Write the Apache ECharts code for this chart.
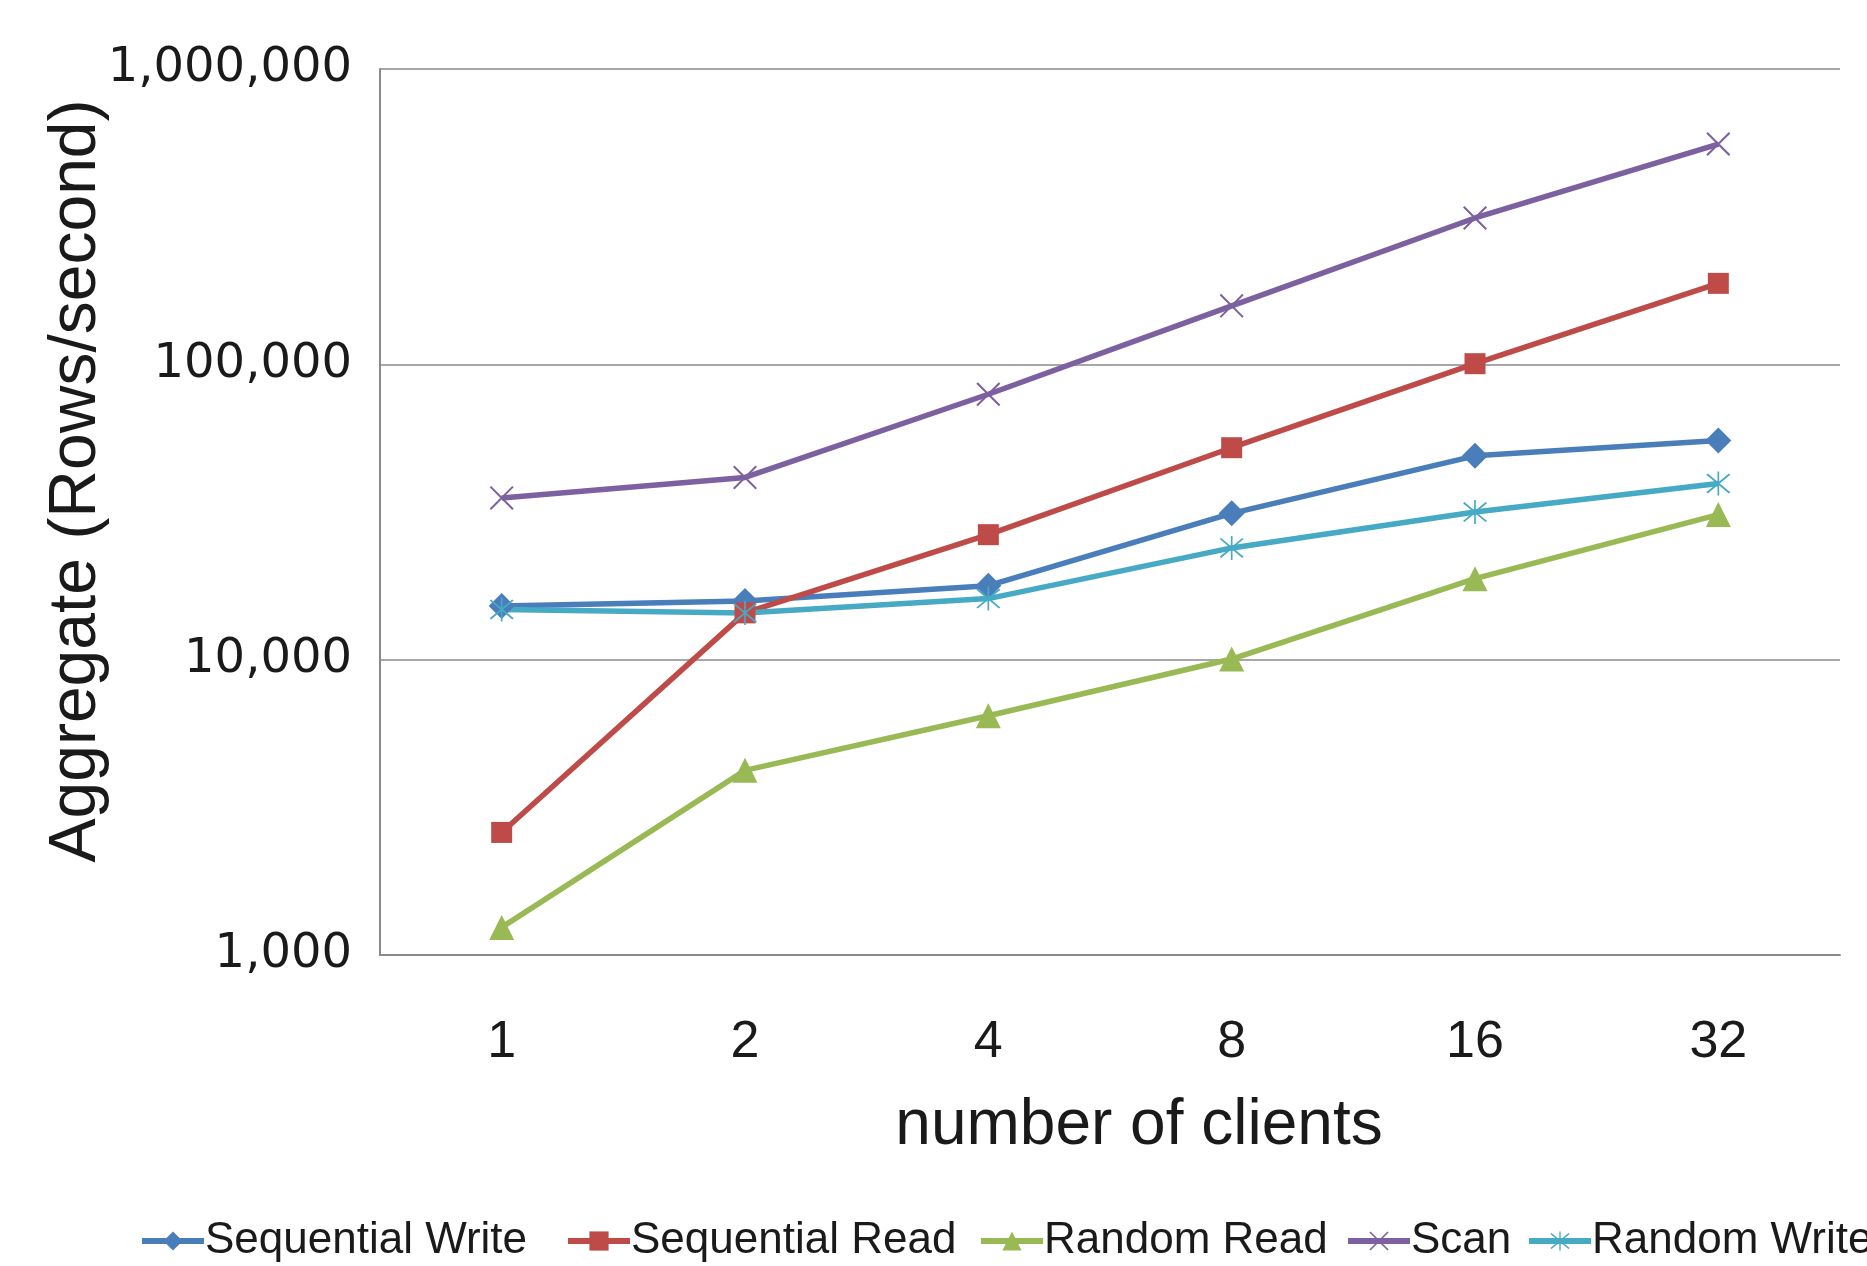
<!DOCTYPE html>
<html>
<head>
<meta charset="utf-8">
<script src="https://cdn.jsdelivr.net/npm/echarts@6/dist/echarts.min.js"></script>
<style>
html,body{margin:0;padding:0;background:#fff;}
#chart{width:1867px;height:1266px;}
</style>
</head>
<body>
<div id="chart"></div>
<script>
const categories = ['1', '2', '4', '8', '16', '32'];
const seqWrite  = [15200, 15800, 17800, 31300, 49000, 55200];
const seqRead   = [2600, 14400, 26500, 52200, 100500, 188000];
const randRead  = [1240, 4220, 6460, 10050, 18800, 31000];
const scan      = [35300, 41400, 79200, 157800, 313000, 557000];
const randWrite = [14800, 14400, 16100, 23900, 31600, 39500];
const yTicks = [1000, 10000, 100000, 1000000];
const seriesNames = ['Sequential Write', 'Sequential Read', 'Random Read', 'Scan', 'Random Write'];

const colors = ['#4A7EBB', '#BE4B48', '#98B954', '#7D60A0', '#46AAC5'];
const xSym = 'path://M0,0.6 L0.6,0 L10,9.4 L9.4,10 Z M9.4,0 L10,0.6 L0.6,10 L0,9.4 Z';
const starSym = 'path://M0,0.6 L0.6,0 L10,9.4 L9.4,10 Z M9.4,0 L10,0.6 L0.6,10 L0,9.4 Z M4.65,-1 L5.35,-1 L5.35,11 L4.65,11 Z';

const chart = echarts.init(document.getElementById('chart'));
const font = '"Liberation Sans", Arial, sans-serif';

function mk(name, data, color, symbol, size) {
  return {
    name: name, type: 'line', data: data,
    symbol: symbol, symbolSize: size,
    lineStyle: {color: color, width: 5.5},
    itemStyle: {color: color},
    emphasis: {disabled: true},
    z: 3
  };
}

const legendLefts = [134, 560, 973, 1340, 1521];
const legends = seriesNames.map((n, i) => ({
  data: [n], left: legendLefts[i], top: 1214,
  itemWidth: 62, itemHeight: 24, itemGap: 0,
  lineStyle: {width: 6},
  textStyle: {fontFamily: font, fontSize: 44, color: '#1a1a1a', padding: [0, 0, 0, -4]}
}));

chart.setOption({
  animation: false,
  backgroundColor: '#ffffff',
  color: colors,
  grid: {left: 380, right: 27, top: 69, bottom: 311, containLabel: false},
  legend: legends,
  xAxis: {
    type: 'category', data: categories, boundaryGap: true,
    axisLine: {lineStyle: {color: '#8a8a8a', width: 2}},
    axisTick: {show: false},
    axisLabel: {fontFamily: font, fontSize: 52, color: '#1a1a1a', margin: 62},
    splitLine: {show: false}
  },
  yAxis: {
    type: 'log', logBase: 10, min: yTicks[0], max: yTicks[yTicks.length - 1],
    axisLine: {show: true, lineStyle: {color: '#8a8a8a', width: 2}},
    axisTick: {show: false},
    axisLabel: {
      fontFamily: '"DejaVu Sans", sans-serif', fontSize: 48, color: '#1a1a1a', margin: 28,
      formatter: v => Number(v).toLocaleString('en-US')
    },
    splitLine: {lineStyle: {color: '#8a8a8a', width: 1.5}}
  },
  graphic: [
    {type: 'text', x: 77, y: 481, rotation: Math.PI / 2,
     style: {text: 'Aggregate (Rows/second)', font: '66px "Liberation Sans", Arial, sans-serif',
             fill: '#1a1a1a', textAlign: 'center', textVerticalAlign: 'middle'}},
    {type: 'text', x: 1139, y: 1126,
     style: {text: 'number of clients', font: '64px "Liberation Sans", Arial, sans-serif',
             fill: '#1a1a1a', textAlign: 'center', textVerticalAlign: 'middle'}}
  ],
  series: [
    mk(seriesNames[0], seqWrite, colors[0], 'diamond', 26),
    mk(seriesNames[1], seqRead, colors[1], 'rect', 21),
    mk(seriesNames[2], randRead, colors[2], 'triangle', 25),
    mk(seriesNames[3], scan, colors[3], xSym, 24),
    mk(seriesNames[4], randWrite, colors[4], starSym, 24)
  ]
});
</script>
</body>
</html>
